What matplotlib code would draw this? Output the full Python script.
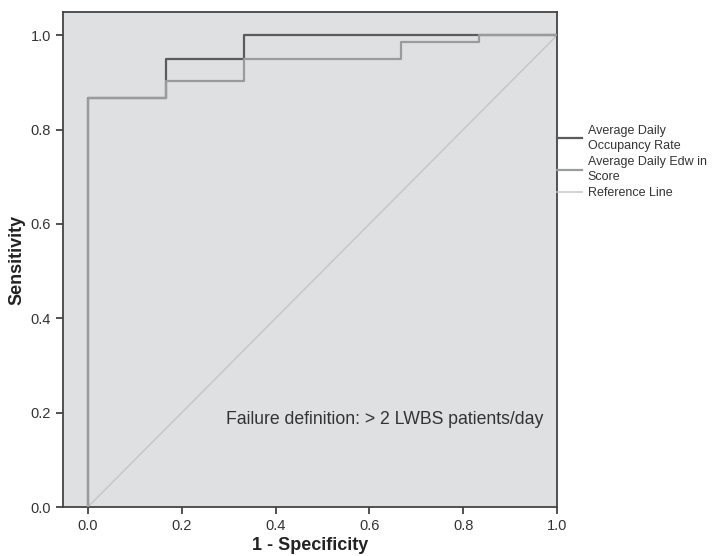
import matplotlib

matplotlib.use("Agg")
import matplotlib.pyplot as plt  # noqa: E402

plt.rcParams.update({"font.family": ["Liberation Sans", "DejaVu Sans"], "font.size": 10.5})

# ROC step curves, (1 - specificity, sensitivity)
occ_fpr = [0.0, 0.0, 0.167, 0.167, 0.333, 0.333, 1.0]
occ_tpr = [0.0, 0.867, 0.867, 0.950, 0.950, 1.0, 1.0]
edw_fpr = [0.0, 0.0, 0.167, 0.167, 0.333, 0.333, 0.667, 0.667, 0.833, 0.833, 1.0]
edw_tpr = [0.0, 0.867, 0.867, 0.903, 0.903, 0.950, 0.950, 0.985, 0.985, 1.0, 1.0]
ref_x = [0.0, 1.0]
ref_y = [0.0, 1.0]

labels = ["Average Daily\nOccupancy Rate", "Average Daily Edw in\nScore", "Reference Line"]
ticks = [0.0, 0.2, 0.4, 0.6, 0.8, 1.0]


def main():
    fig = plt.figure(figsize=(7.14, 5.56), dpi=100)
    ax = fig.add_axes([0.0882, 0.0881, 0.692, 0.890])
    ax.set_facecolor("#dfe0e2")

    ax.plot(ref_x, ref_y, color="#c6c7c9", linewidth=1.1, label=labels[2], zorder=2)
    ax.plot(occ_fpr, occ_tpr, color="#5a5b5d", linewidth=1.6, label=labels[0], zorder=3)
    ax.plot(edw_fpr, edw_tpr, color="#9a9b9d", linewidth=1.6, label=labels[1], zorder=4)

    ax.set_xlim(-0.053, 1.0)
    ax.set_ylim(0.0, 1.049)
    ax.set_xticks(ticks)
    ax.set_yticks(ticks)
    ax.set_xticklabels([f"{t:.1f}" for t in ticks])
    ax.set_yticklabels([f"{t:.1f}" for t in ticks])
    ax.tick_params(direction="out", length=5, width=1.2, color="#333333", labelcolor="#333333")
    for s in ax.spines.values():
        s.set_color("#444444")
        s.set_linewidth(1.3)

    ax.set_xlabel("1 - Specificity", fontsize=13, fontweight="bold", color="#222222", labelpad=3)
    ax.set_ylabel("Sensitivity", fontsize=13, fontweight="bold", color="#222222", labelpad=4)

    ax.text(0.97, 0.185, "Failure definition: > 2 LWBS patients/day", ha="right", va="center",
            fontsize=12.7, color="#333333")

    h, lab = ax.get_legend_handles_labels()
    order = [1, 2, 0]
    leg = ax.legend([h[i] for i in order], [lab[i] for i in order], loc="upper left",
                    bbox_to_anchor=(1.0, 0.772), frameon=False, fontsize=9, handlelength=2.0,
                    handletextpad=0.45, labelspacing=0.35, borderaxespad=0.0, borderpad=0.0,
                    labelcolor="#333333")
    for t in leg.get_texts():
        t.set_linespacing(1.3)

    fig.savefig("out.png", dpi=100)
    plt.close(fig)


if __name__ == "__main__":
    main()
